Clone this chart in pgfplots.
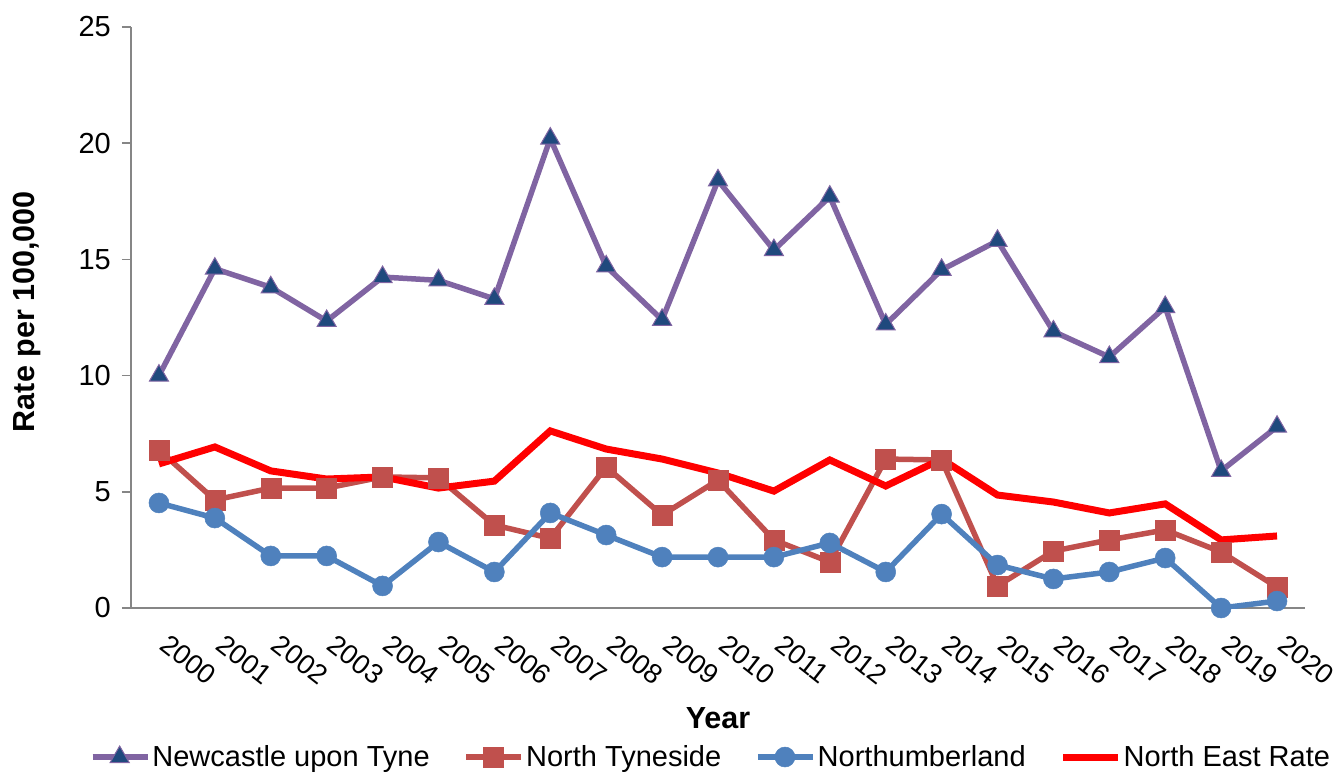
\documentclass[border=0pt]{standalone}
\usepackage{fontspec}
\setmainfont{Liberation Sans}
\usepackage{pgfplots}
\pgfplotsset{compat=1.18}

\definecolor{ncline}{HTML}{8064A2}
\definecolor{ncfill}{HTML}{1F497D}
\definecolor{ntcol}{HTML}{C0504D}
\definecolor{nbcol}{HTML}{4F81BD}
\definecolor{axgray}{HTML}{868686}

\begin{document}
\begin{tikzpicture}
\begin{axis}[
  name=ax,
  scale only axis,
  width=1174pt, height=581pt,
  xmin=-0.5, xmax=20.5,
  ymin=0, ymax=25,
  axis x line*=bottom,
  axis y line*=left,
  axis line style={axgray, line width=1.6pt},
  every tick/.style={axgray, line width=1.6pt},
  tick align=outside,
  ytick={0,5,10,15,20,25},
  major tick length=9pt,
  minor tick length=10pt,
  xtick={0,...,20},
  xtick style={draw=none},
  minor xtick={-0.5,0.5,...,20.5},
  xticklabels={2000,2001,2002,2003,2004,2005,2006,2007,2008,2009,2010,2011,2012,2013,2014,2015,2016,2017,2018,2019,2020},
  /pgf/number format/assume math mode=true,
  ticklabel style={font=\fontsize{29}{34}\selectfont},
  yticklabel style={inner sep=0pt, xshift=-11pt},
  xticklabel style={font=\fontsize{27.5}{32}\selectfont, anchor=north west, inner sep=0pt,
    xshift=11pt, yshift=-16pt, rotate=-38},
  xlabel={Year},
  ylabel={Rate per 100,000},
  label style={font=\bfseries\fontsize{30.5}{36}\selectfont},
  xlabel style={at={(axis description cs:0.5,-0.1893)}, anchor=center},
  ylabel style={at={(axis description cs:-0.0885,0.51)}, anchor=center, rotate=0},
  legend columns=4,
  legend style={at={(axis description cs:0.494,-0.2565)}, anchor=center, draw=none,
    font=\fontsize{29}{34}\selectfont, inner sep=0pt,
    /tikz/every even column/.append style={column sep=32pt}},
  legend cell align=left,
  legend image code/.code={
    \draw[mark repeat=2, mark phase=2] plot coordinates {(0pt,0pt) (27pt,0pt) (55pt,0pt)};
  },
]
% Newcastle upon Tyne
\addplot[color=ncline, line width=5.5pt, mark=triangle*, mark size=11pt,
  mark options={fill=ncfill, draw=ncline, line width=1pt, solid}]
  coordinates {
  (0,10.0) (1,14.6) (2,13.8) (3,12.35) (4,14.24) (5,14.1) (6,13.3)
  (7,20.2) (8,14.7) (9,12.4) (10,18.4) (11,15.4) (12,17.7) (13,12.2)
  (14,14.55) (15,15.8) (16,11.9) (17,10.8) (18,12.95) (19,5.9) (20,7.8)};
\addlegendentry{Newcastle upon Tyne}
% North Tyneside
\addplot[color=ntcol, line width=5.5pt, mark=square*, mark size=10pt,
  mark options={fill=ntcol, draw=ntcol, line width=0.5pt, solid}]
  coordinates {
  (0,6.8) (1,4.65) (2,5.16) (3,5.16) (4,5.64) (5,5.6) (6,3.57)
  (7,3.0) (8,6.07) (9,4.0) (10,5.5) (11,2.93) (12,1.98) (13,6.41)
  (14,6.37) (15,0.95) (16,2.45) (17,2.93) (18,3.36) (19,2.41) (20,0.9)};
\addlegendentry{North Tyneside}
% Northumberland
\addplot[color=nbcol, line width=5.5pt, mark=*, mark size=10pt,
  mark options={fill=nbcol, draw=nbcol, line width=0.5pt, solid}]
  coordinates {
  (0,4.52) (1,3.87) (2,2.24) (3,2.24) (4,0.95) (5,2.84) (6,1.55)
  (7,4.09) (8,3.14) (9,2.19) (10,2.19) (11,2.19) (12,2.8) (13,1.55)
  (14,4.04) (15,1.85) (16,1.25) (17,1.55) (18,2.15) (19,0.0) (20,0.3)};
\addlegendentry{Northumberland}
% North East rate
\addplot[color=red, line width=7pt, no marks]
  coordinates {
  (0,6.2) (1,6.93) (2,5.9) (3,5.55) (4,5.64) (5,5.16) (6,5.46)
  (7,7.62) (8,6.84) (9,6.41) (10,5.81) (11,5.03) (12,6.37) (13,5.25)
  (14,6.41) (15,4.86) (16,4.56) (17,4.09) (18,4.48) (19,2.93) (20,3.1)};
\addlegendentry{North East Rate}
\end{axis}
\pgfresetboundingbox
\path[use as bounding box] ([shift={(-131pt,-164pt)}]ax.south west) rectangle ([shift={(1206pt,608pt)}]ax.south west);
\end{tikzpicture}
\end{document}
